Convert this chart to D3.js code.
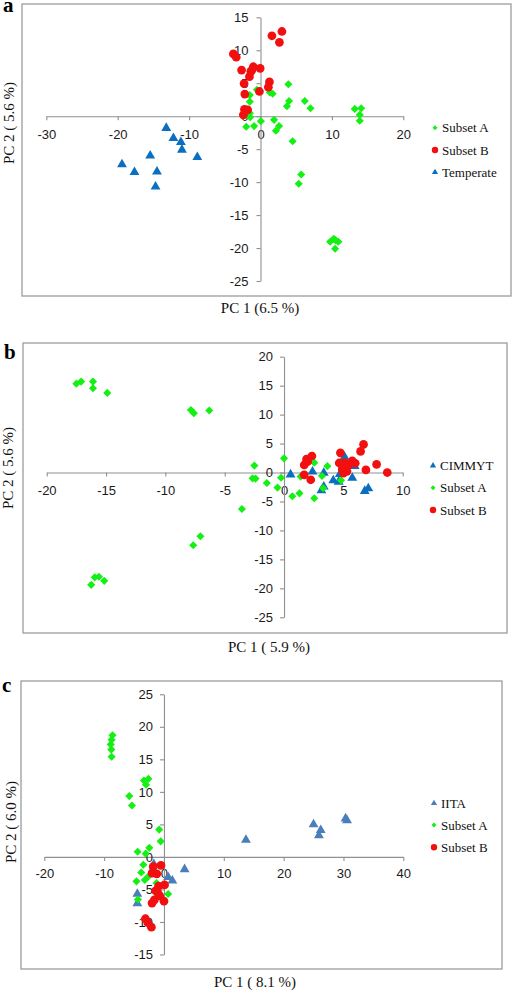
<!DOCTYPE html>
<html>
<head>
<meta charset="utf-8">
<script src="https://cdn.jsdelivr.net/npm/d3@7"></script>
<style>
  body { margin: 0; background: #fff; }
</style>
</head>
<body>
<svg id="SVG_CONTAINER" width="513" height="992"></svg>
<script>
// ---- data ----
// panel a
let aSubsetA = [[3.9,4.85],[1.3,3.6],[1.7,3.4],[-0.5,4.0],[-1.5,3.2],[-1.5,2.2],[-1.5,0.45],[-1.45,-0.15],
  [4.0,2.3],[3.7,1.5],[6.2,2.3],[7.0,1.2],[13.2,1.1],[14.1,1.2],[13.9,0.2],[13.9,-0.7],[-2.0,-1.6],[-0.9,-1.5],
  [0.05,-0.75],[1.9,-0.55],[2.6,-1.5],[2.15,-2.2],[4.5,-3.8],[5.7,-8.85],[5.35,-10.25],[10.25,-18.6],
  [9.75,-19.05],[10.9,-19.05],[10.45,-20.1],[10.5,-18.8]];
let aSubsetB = [[-3.8,9.45],[-3.4,8.95],[1.6,12.2],[3.0,12.85],[2.65,11.2],[-2.65,7.0],[-1.0,7.5],[-0.05,7.25],
  [-1.35,6.8],[-1.55,6.0],[-2.3,4.95],[1.25,5.2],[1.1,4.4],[-0.15,3.75],[-2.2,3.35],[-2.25,1.05],[-1.8,0.95],
  [-2.4,0.2],[-1.2,7.0]];
let aTemperate = [[-13.2,-1.8],[-12.2,-3.35],[-11.15,-3.95],[-11.0,-5.1],[-8.85,-6.2],[-15.45,-6.0],
  [-19.4,-7.3],[-17.65,-8.5],[-14.5,-8.4],[-14.7,-10.7]];

// panel b
let bCimmyt = [[0.55,-0.35],[2.4,0.15],[3.35,-0.05],[3.15,-3.1],[3.35,-2.45],[4.15,-1.35],[4.6,-1.6],
  [4.7,-0.3],[5.1,2.7],[5.75,-0.95],[5.95,1.1],[6.8,-3.2],[7.1,-2.75]];
let bSubsetA = [[-17.5,15.35],[-17.1,15.7],[-16.1,15.7],[-16.1,14.55],[-14.9,13.75],[-7.85,10.8],[-7.6,10.25],
  [-6.3,10.7],[-3.55,-6.3],[-7.05,-11.0],[-7.65,-12.55],[-16.25,-19.4],[-15.95,-18.1],[-15.6,-18.0],
  [-15.15,-18.7],[-2.5,1.2],[-2.65,-1.0],[-2.4,-1.05],[-1.45,-1.8],[-0.55,-2.6],[-0.25,-0.9],[0.0,2.45],
  [0.7,-4.1],[1.3,-3.6],[2.55,-4.45],[1.4,-0.7],[2.55,1.7],[3.2,-0.6],[3.65,1.1],[3.3,-2.7],[4.8,-1.35]];
let bSubsetB = [[1.7,1.3],[1.9,2.3],[2.35,2.85],[1.7,-0.4],[2.25,-1.25],[4.75,3.4],[4.65,1.65],[5.1,1.7],
  [5.3,0.2],[5.75,2.0],[6.0,1.6],[6.45,3.65],[6.7,4.85],[6.9,0.45],[7.8,1.4],[8.7,0],[4.9,0.6],[5.4,1.2],
  [2.0,1.9],[5.0,-0.1]];

// panel c
let cIita = [[13.7,2.6],[25.0,5.0],[26.2,4.1],[25.9,3.3],[30.35,5.9],[30.6,5.6],[3.45,-1.9],[1.4,-3.65],
  [0.7,-3.1],[-4.45,-5.7],[-4.45,-7.15],[-1.7,-1.1]];
let cSubsetA = [[-8.6,18.7],[-8.75,18.0],[-8.9,17.3],[-8.8,16.5],[-8.75,15.4],[-3.35,11.75],[-2.6,12.0],
  [-3.0,11.1],[-5.8,9.35],[-5.35,7.9],[-0.8,4.2],[-0.55,2.4],[-4.4,0.8],[-2.45,1.4],[-3.05,0.5],[-3.45,-1.2],
  [-3.8,-2.4],[-4.6,-3.75],[-3.2,-3.55],[-2.6,-3.0],[-1.25,-4.0],[0.7,-5.7],[-4.35,-6.55],[-1.8,-2.0]];
let cSubsetB = [[-1.8,-1.5],[-0.5,-1.3],[-2.0,-2.5],[-1.2,-2.6],[-0.9,-4.5],[0.1,-4.3],[-1.4,-5.2],
  [-0.7,-6.0],[-1.6,-6.6],[0.0,-6.8],[-2.0,-7.1],[-1.0,-5.6],[-3.1,-9.5],[-2.7,-10.1],[-2.1,-10.8]];

// ticks
let aXTicks = [-30, -20, -10, 0, 10, 20];
let aYTicks = [-25, -20, -15, -10, -5, 0, 5, 10, 15];
let bXTicks = [-20, -15, -10, -5, 0, 5, 10];
let bYTicks = [-25, -20, -15, -10, -5, 0, 5, 10, 15, 20];
let cXTicks = [-20, -10, 0, 10, 20, 30, 40];
let cYTicks = [-15, -10, -5, 0, 5, 10, 15, 20, 25];

const GREEN = "#14f014", RED = "#f20f0f", BLUE = "#0a6fc0", STEEL = "#4a7ebb";
const SANS = "'Liberation Sans', Arial, sans-serif";
const SERIF = "'Liberation Serif', 'Times New Roman', serif";

let shapes = {
  diamond: { type: d3.symbolSquare, size: 33, legend: 12, rotate: 45 },
  circle:  { type: d3.symbolCircle, size: 60, legend: 32, rotate: 0 },
  triangle:{ type: d3.symbolTriangle, size: 42, legend: 17, rotate: 0 }
};

let panels = [
  { label: "a", box: [22, 4, 511, 296], xDom: [-30, 20], xRange: [46.3, 403.3], yDom: [-25, 15], yRange: [281, 17.3],
    xTicks: aXTicks, yTicks: aYTicks, xPad: 9.5, yPad: 8,
    xTitle: "PC 1 (6.5 %)", xTitlePos: [260, 313], yTitle: "PC 2 ( 5.6 %)", yTitlePos: [9, 123], labelPos: [3, 12],
    legend: { x: 435, tx: 442, ys: [127.7, 150, 172.3] },
    series: [
      { name: "Subset A", data: aSubsetA, shape: "diamond", color: GREEN },
      { name: "Subset B", data: aSubsetB, shape: "circle", color: RED },
      { name: "Temperate", data: aTemperate, shape: "triangle", color: BLUE }
    ] },
  { label: "b", box: [23, 343, 507, 633], xDom: [-20, 10], xRange: [46.7, 402.7], yDom: [-25, 20], yRange: [617.3, 356.7],
    xTicks: bXTicks, yTicks: bYTicks, xPad: 9, yPad: 7,
    xTitle: "PC 1 ( 5.9 %)", xTitlePos: [269, 652], yTitle: "PC 2 ( 5.6 %)", yTitlePos: [8, 468], labelPos: [4, 359],
    legend: { x: 433, tx: 440, ys: [465.7, 487.7, 510] },
    series: [
      { name: "CIMMYT", data: bCimmyt, shape: "triangle", color: BLUE },
      { name: "Subset A", data: bSubsetA, shape: "diamond", color: GREEN },
      { name: "Subset B", data: bSubsetB, shape: "circle", color: RED }
    ] },
  { label: "c", box: [21, 681, 502, 969], xDom: [-20, 40], xRange: [44.3, 403.3], yDom: [-15, 25], yRange: [954.5, 694.3],
    xTicks: cXTicks, yTicks: cYTicks, xPad: 7.5, yPad: 7,
    xTitle: "PC 1 ( 8.1 %)", xTitlePos: [255, 987], yTitle: "PC 2 ( 6.0 %)", yTitlePos: [11, 822], labelPos: [2, 691.5],
    legend: { x: 434, tx: 441, ys: [803.3, 825, 847.3] },
    series: [
      { name: "IITA", data: cIita, shape: "triangle", color: STEEL },
      { name: "Subset A", data: cSubsetA, shape: "diamond", color: GREEN },
      { name: "Subset B", data: cSubsetB, shape: "circle", color: RED }
    ] }
];

let svg = d3.select("#SVG_CONTAINER");

let drawPanel = function (p) {
  let g = svg.append("g").attr("class", "panel-" + p.label);

  // frame
  g.append("rect")
    .attr("x", p.box[0]).attr("y", p.box[1])
    .attr("width", p.box[2] - p.box[0]).attr("height", p.box[3] - p.box[1])
    .attr("fill", "none").attr("stroke", "#9c9c9c").attr("stroke-width", 1.3);

  let xScale = d3.scaleLinear().domain(p.xDom).range(p.xRange);
  let yScale = d3.scaleLinear().domain(p.yDom).range(p.yRange);

  let xAxis = d3.axisBottom(xScale).tickValues(p.xTicks).tickSize(4).tickSizeOuter(0)
    .tickPadding(p.xPad).tickFormat(d => String(d));
  let yAxis = d3.axisLeft(yScale).tickValues(p.yTicks).tickSize(4).tickSizeOuter(0)
    .tickPadding(p.yPad).tickFormat(d => String(d));

  let xg = g.append("g").attr("transform", "translate(0," + yScale(0) + ")").call(xAxis);
  let yg = g.append("g").attr("transform", "translate(" + xScale(0) + ",0)").call(yAxis);

  [xg, yg].forEach(ax => {
    ax.select(".domain").attr("stroke", "#8f8f8f").attr("stroke-width", 1.1);
    ax.selectAll(".tick line").attr("stroke", "#8f8f8f").attr("stroke-width", 1.1);
    ax.selectAll(".tick text").attr("fill", "#1a1a1a")
      .style("font-family", SANS).style("font-size", "13px");
  });

  // points, series drawn in legend order
  p.series.forEach(s => {
    let sh = shapes[s.shape];
    let sym = d3.symbol().type(sh.type).size(sh.size);
    g.append("g").selectAll("path")
      .data(s.data)
      .enter()
      .append("path")
      .attr("d", sym)
      .attr("fill", s.color)
      .attr("transform", d => "translate(" + xScale(d[0]) + "," + yScale(d[1]) + ") rotate(" + sh.rotate + ")");
  });

  // legend
  p.series.forEach((s, i) => {
    let sh = shapes[s.shape];
    let ly = p.legend.ys[i];
    g.append("path")
      .attr("d", d3.symbol().type(sh.type).size(sh.legend))
      .attr("fill", s.color)
      .attr("transform", "translate(" + p.legend.x + "," + ly + ") rotate(" + sh.rotate + ")");
    g.append("text")
      .attr("x", p.legend.tx).attr("y", ly + 4.6)
      .style("font-family", SERIF).style("font-size", "13px").attr("fill", "#111")
      .text(s.name);
  });

  // axis titles
  g.append("text")
    .attr("x", p.xTitlePos[0]).attr("y", p.xTitlePos[1])
    .attr("text-anchor", "middle")
    .style("font-family", SERIF).style("font-size", "15px").attr("fill", "#111")
    .text(p.xTitle);

  g.append("text")
    .attr("transform", "translate(" + (p.yTitlePos[0] + 5) + "," + p.yTitlePos[1] + ") rotate(-90)")
    .attr("text-anchor", "middle")
    .style("font-family", SERIF).style("font-size", "15px").attr("fill", "#111")
    .text(p.yTitle);

  // panel letter
  g.append("text")
    .attr("x", p.labelPos[0]).attr("y", p.labelPos[1])
    .style("font-family", SERIF).style("font-size", "21px").style("font-weight", "bold").attr("fill", "#000")
    .text(p.label);
};

panels.forEach(drawPanel);
</script>
</body>
</html>
